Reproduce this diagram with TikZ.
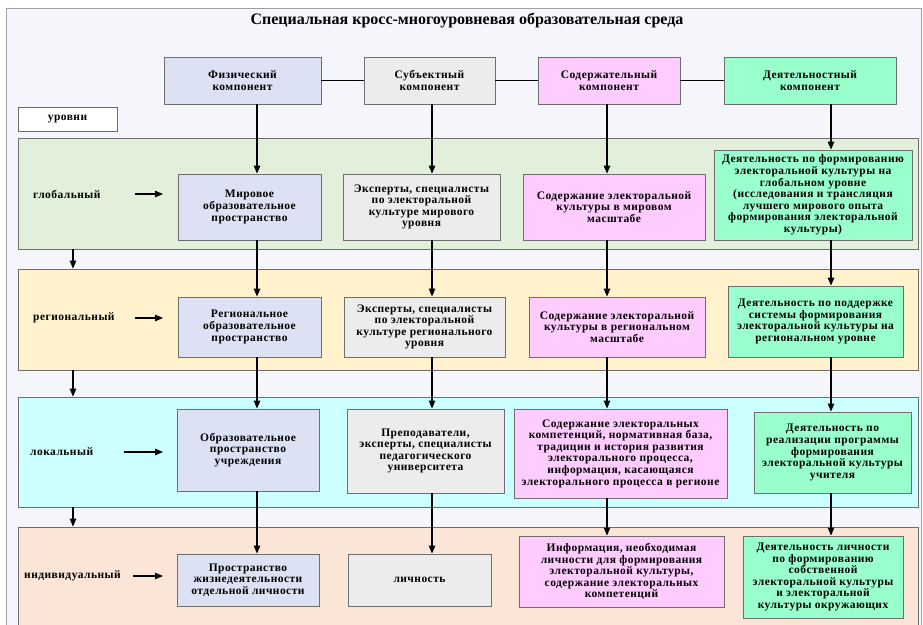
\documentclass[tikz,border=0pt]{standalone}
\usepackage{fontspec}
\setmainfont{Liberation Serif}
\newfontfamily\spc{Liberation Serif}[LetterSpace=4]
\usetikzlibrary{arrows.meta}
\definecolor{bgc}{HTML}{F4F6FB}
\definecolor{frm}{HTML}{A0A0A0}
\definecolor{bord}{HTML}{6E6E6E}
\definecolor{phys}{HTML}{DCE1F3}
\definecolor{subj}{HTML}{ECECEC}
\definecolor{cont}{HTML}{FFCCFF}
\definecolor{actv}{HTML}{99FFCC}
\definecolor{glob}{HTML}{E2EFDA}
\definecolor{regn}{HTML}{FFF2CC}
\definecolor{locl}{HTML}{CCFFFF}
\definecolor{indv}{HTML}{FBE5D6}
\begin{document}
\begin{tikzpicture}[x=1pt,y=-1pt,
  box/.style={draw=bord, line width=0.9pt, align=center, inner sep=1pt,
    font=\spc\bfseries\fontsize{11.5}{11.6}\selectfont},
  band/.style={draw=bord, line width=0.8pt, inner sep=0pt},
  lab/.style={anchor=west, inner sep=0pt, font=\spc\bfseries\fontsize{11.5}{11.6}\selectfont},
  arr/.style={line width=1.1pt, -{Triangle[length=8pt,width=6.5pt]}},
  link/.style={line width=1.8pt}]
\useasboundingbox (0,0) rectangle (923,624);
\draw[draw=frm, fill=bgc, line width=0.8pt] (6,8) rectangle (921,650);
\node[font=\bfseries\fontsize{16}{18}\selectfont] (title) at (467,20) {Специальная кросс-многоуровневая образовательная среда};

% bands
\node[band, fill=glob, minimum width=900pt, minimum height=111pt] (bg) at (468,193.5) {};
\node[band, fill=regn, minimum width=900pt, minimum height=101pt] (br) at (468,319.5) {};
\node[band, fill=locl, minimum width=900pt, minimum height=110pt] (bl) at (468,452) {};
\node[band, fill=indv, minimum width=900pt, minimum height=130pt] (bi) at (468,592) {};

% header
\node[box, fill=phys, minimum width=157pt, minimum height=47pt] (h1) at (242.5,80.5) {Физический\\компонент};
\node[box, fill=subj, minimum width=131pt, minimum height=47pt] (h2) at (429.5,80.5) {Субъектный\\компонент};
\node[box, fill=cont, minimum width=142pt, minimum height=47pt] (h3) at (609,80.5) {Содержательный\\компонент};
\node[box, fill=actv, minimum width=172pt, minimum height=47pt] (h4) at (810,80.5) {Деятельностный\\компонент};
\node[box, fill=white, minimum width=99pt, minimum height=24pt] (lev) at (67.5,119) {уровни};

% columns
\coordinate (k0) at (73,0);
\coordinate (k1) at (257,0);
\coordinate (k2) at (432,0);
\coordinate (k3) at (607,0);
\coordinate (k4) at (831,0);

% row 1
\node[box, fill=phys, minimum width=143pt, minimum height=66pt] (a1) at (249.5,207) {Мировое\\образовательное\\пространство};
\node[box, fill=subj, minimum width=157pt, minimum height=66pt] (a2) at (421.5,207) {Эксперты, специалисты\\по электоральной\\культуре мирового\\уровня};
\node[box, fill=cont, minimum width=182pt, minimum height=66pt] (a3) at (614,207) {Содержание электоральной\\культуры в мировом\\масштабе};
\node[box, fill=actv, minimum width=198pt, minimum height=90pt] (a4) at (813,195) {Деятельность по формированию\\электоральной культуры на\\глобальном уровне\\(исследования и трансляция\\лучшего мирового опыта\\формирования электоральной\\культуры)};

% row 2
\node[box, fill=phys, minimum width=143pt, minimum height=60pt] (b1) at (249.5,327) {Региональное\\образовательное\\пространство};
\node[box, fill=subj, minimum width=161pt, minimum height=60pt] (b2) at (424.5,327) {Эксперты, специалисты\\по электоральной\\культуре регионального\\уровня};
\node[box, fill=cont, minimum width=176pt, minimum height=60pt] (b3) at (617,327) {Содержание электоральной\\культуры в региональном\\масштабе};
\node[box, fill=actv, minimum width=175pt, minimum height=71pt] (b4) at (815.5,321.5) {Деятельность по поддержке\\системы формирования\\электоральной культуры на\\региональном уровне};

% row 3
\node[box, fill=phys, minimum width=142pt, minimum height=82pt] (c1) at (248,450) {Образовательное\\пространство\\учреждения};
\node[box, fill=subj, minimum width=157pt, minimum height=84pt] (c2) at (425.5,451) {Преподаватели,\\эксперты, специалисты\\педагогического\\университета};
\node[box, fill=cont, minimum width=213pt, minimum height=89pt] (c3) at (620.5,453.5) {Содержание электоральных\\компетенций, нормативная база,\\традиции и история развития\\электорального процесса,\\информация, касающаяся\\электорального процесса в регионе};
\node[box, fill=actv, minimum width=157pt, minimum height=81pt] (c4) at (832.5,452.5) {Деятельность по\\реализации программы\\формирования\\электоральной культуры\\учителя};

% row 4
\node[box, fill=phys, minimum width=142pt, minimum height=52pt] (d1) at (248,580) {Пространство\\жизнедеятельности\\отдельной личности};
\node[box, fill=subj, minimum width=143pt, minimum height=52pt] (d2) at (419.5,580) {личность};
\node[box, fill=cont, minimum width=205pt, minimum height=71pt] (d3) at (621.5,571.5) {Информация, необходимая\\личности для формирования\\электоральной культуры,\\содержание электоральных\\компетенций};
\node[box, fill=actv, minimum width=160pt, minimum height=82pt] (d4) at (823,577) {Деятельность личности\\по формированию\\собственной\\электоральной культуры\\и электоральной\\культуры окружающих};

% row labels
\node[lab] (l1) at (33,194) {глобальный};
\node[lab] (l2) at (33,318) {региональный};
\node[lab] (l3) at (30,452) {локальный};
\node[lab] (l4) at (24,576) {индивидуальный};
\coordinate (s1) at (135,194); \coordinate (e1) at (163,194);
\coordinate (s2) at (135,318); \coordinate (e2) at (163,318);
\coordinate (s3) at (124,452); \coordinate (e3) at (163,452);
\coordinate (s4) at (133,576); \coordinate (e4) at (163,576);
\draw[arr] (s1) -- (e1);
\draw[arr] (s2) -- (e2);
\draw[arr] (s3) -- (e3);
\draw[arr] (s4) -- (e4);

% header links
\draw[link] (h1.east) -- (h2.west);
\draw[link] (h2.east) -- (h3.west);
\draw[link] (h3.east) -- (h4.west);

% level arrows
\draw[arr] (bg.south -| k0) -- (br.north -| k0);
\draw[arr] (br.south -| k0) -- (bl.north -| k0);
\draw[arr] (bl.south -| k0) -- (bi.north -| k0);

% column arrows
\foreach \c/\k in {1/k1,2/k2,3/k3,4/k4}{
  \draw[arr] (h\c.south -| \k) -- (a\c.north -| \k);
  \draw[arr] (a\c.south -| \k) -- (b\c.north -| \k);
  \draw[arr] (b\c.south -| \k) -- (c\c.north -| \k);
  \draw[arr] (c\c.south -| \k) -- (d\c.north -| \k);
}
\end{tikzpicture}
\end{document}
